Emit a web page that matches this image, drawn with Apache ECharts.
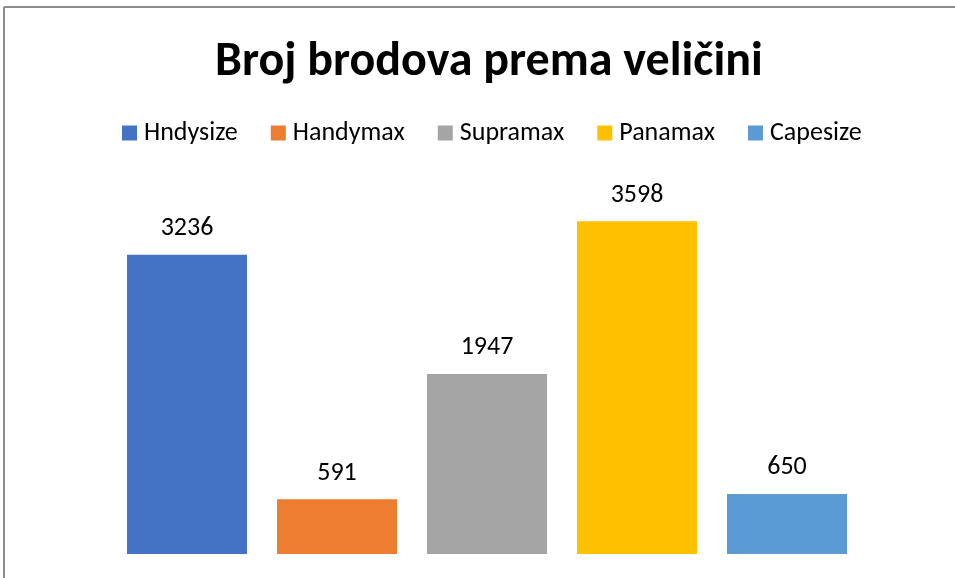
<!DOCTYPE html>
<html>
<head>
<meta charset="utf-8">
<script src="https://cdn.jsdelivr.net/npm/echarts@6/dist/echarts.min.js"></script>
<style>
  html, body { margin: 0; padding: 0; background: #fff; }
  #main { width: 955px; height: 578px; }
</style>
</head>
<body>
<div id="main"></div>
<script>
const categories = ['Hndysize', 'Handymax', 'Supramax', 'Panamax', 'Capesize']
const values = [3236, 591, 1947, 3598, 650]
const colors = ['#4472C4', '#ED7D31', '#A5A5A5', '#FFC000', '#5B9BD5']

const font = "Calibri, Carlito, 'Open Sans', sans-serif"

// one series per ship class, so each gets its own legend entry
const series = categories.map((name, i) => ({
  name,
  type: 'bar',
  stack: 'total',
  barWidth: 120,
  itemStyle: { color: colors[i] },
  label: {
    show: true,
    position: 'top',
    distance: 13,
    color: '#000',
    fontSize: 26,
    fontFamily: font,
  },
  data: categories.map((_, j) => (j === i ? values[i] : null)),
}))

const chart = echarts.init(document.getElementById('main'))
chart.setOption({
  backgroundColor: '#fff',
  animation: false,
  title: {
    text: 'Broj brodova prema veličini',
    left: 210,
    top: 34,
    textStyle: { fontSize: 48, fontWeight: 'bold', color: '#000', fontFamily: font },
  },
  legend: {
    top: 115,
    left: 117,
    itemWidth: 15,
    itemHeight: 15,
    itemGap: 33,
    icon: 'rect',
    textStyle: { fontSize: 26, color: '#000', fontFamily: font, padding: [0, 0, 0, 2] },
  },
  grid: { left: 112, right: 93, top: 184, bottom: 24 },
  xAxis: {
    type: 'category',
    data: categories,
    axisLine: { show: false },
    axisTick: { show: false },
    axisLabel: { show: false },
  },
  yAxis: {
    type: 'value',
    min: 0,
    max: 4000,
    show: false,
    splitLine: { show: false },
  },
  graphic: [
    { type: 'line', shape: { x1: 4, y1: 7, x2: 955, y2: 7 }, style: { stroke: '#8c8c8c', lineWidth: 2 } },
    { type: 'line', shape: { x1: 4, y1: 7, x2: 4, y2: 578 }, style: { stroke: '#8c8c8c', lineWidth: 2 } },
  ],
  series,
})
</script>
</body>
</html>
